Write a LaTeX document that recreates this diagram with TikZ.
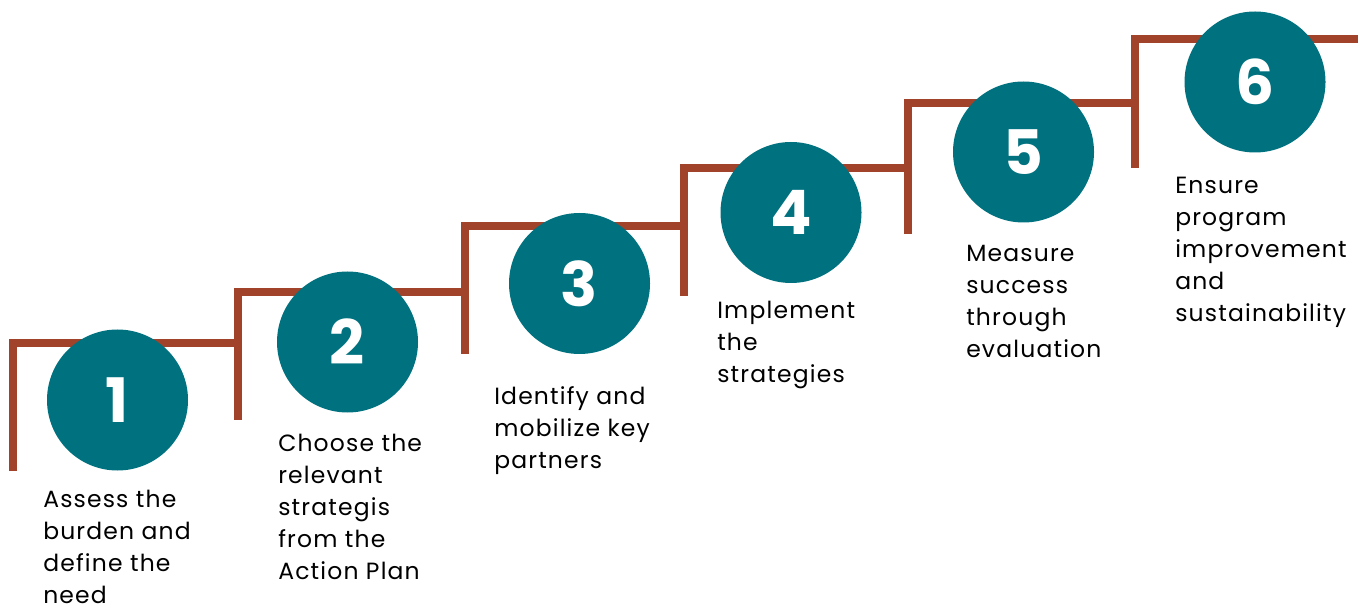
\documentclass[tikz,border=0pt]{standalone}
\usepackage{fontspec}
\setmainfont{Poppins}
\newfontfamily\stepfont[LetterSpace=5]{Poppins}
\definecolor{stepteal}{RGB}{0,113,126}
\definecolor{steprust}{RGB}{161,66,43}
\begin{document}
\begin{tikzpicture}[x=0.75pt,y=-0.75pt,
  stair/.style={draw=steprust,line width=6pt,line join=miter,line cap=butt},
  badge/.style={circle,fill=stepteal,minimum size=105.75pt,inner sep=0pt,text=white,
    font=\fontsize{46}{46}\selectfont\bfseries},
  steptext/.style={anchor=north west,inner sep=0pt,align=left,text=black,
    font=\stepfont\fontsize{17.6}{24}\selectfont}]
\useasboundingbox (0,0) rectangle (1362,605);
% stair corner coordinates
\coordinate (b1) at (13,471);   \coordinate (h1) at (13,343);
\coordinate (b2) at (238,420);  \coordinate (h2) at (238,292);
\coordinate (b3) at (465,354);  \coordinate (h3) at (465,226.5);
\coordinate (b4) at (683.5,296);\coordinate (h4) at (683.5,168);
\coordinate (b5) at (908,234);  \coordinate (h5) at (908,103);
\coordinate (b6) at (1135,168); \coordinate (h6) at (1135,39);
\coordinate (e6) at (1358,39);
\draw[stair] (b1) -- (h1) -- (h2 |- h1);
\draw[stair] (b2) -- (h2) -- (h3 |- h2);
\draw[stair] (b3) -- (h3) -- (h4 |- h3);
\draw[stair] (b4) -- (h4) -- (h5 |- h4);
\draw[stair] (b5) -- (h5) -- (h6 |- h5);
\draw[stair] (b6) -- (h6) -- (e6);
% circles
\node[badge] (c1) at (117.5,400) {1};
\node[badge] (c2) at (347.5,342) {2};
\node[badge] (c3) at (579.5,283.5) {3};
\node[badge] (c4) at (791,212.5) {4};
\node[badge] (c5) at (1023.5,152) {5};
\node[badge] (c6) at (1255,82) {6};
% texts
\node[steptext] (t1) at (43,485.3) {\strut Assess the\\burden and\\define the\\need};
\node[steptext] (t2) at (278,428.6) {\strut Choose the\\relevant\\strategis\\from the\\Action Plan};
\node[steptext] (t3) at (494,382) {\strut Identify and\\mobilize key\\partners};
\node[steptext] (t4) at (717,295.6) {\strut Implement\\the\\strategies};
\node[steptext] (t5) at (966,239.3) {\strut Measure\\success\\through\\evaluation};
\node[steptext] (t6) at (1175,171) {\strut Ensure\\program\\improvement\\and\\sustainability};
\end{tikzpicture}
\end{document}
